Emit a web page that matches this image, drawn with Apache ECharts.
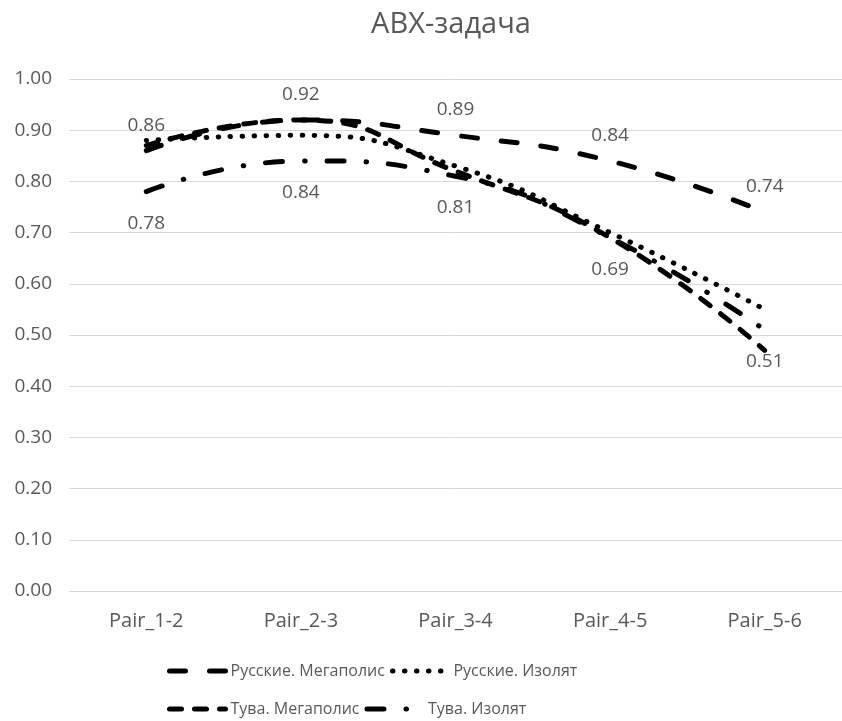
<!DOCTYPE html>
<html>
<head>
<meta charset="utf-8">
<script src="https://cdn.jsdelivr.net/npm/echarts@6/dist/echarts.min.js"></script>
<style>
  html, body { margin: 0; padding: 0; background: #ffffff; }
  #chart { width: 842px; height: 721px; }
</style>
</head>
<body>
<div id="chart"></div>
<script>
// ABX task: proportion of correct answers for each stimulus pair
var categories = ['Pair_1-2', 'Pair_2-3', 'Pair_3-4', 'Pair_4-5', 'Pair_5-6'];
var seriesNames = ['Русские. Мегаполис', 'Русские. Изолят', 'Тува. Мегаполис', 'Тува. Изолят'];
var rusMegapolis = [0.86, 0.92, 0.89, 0.84, 0.74];
var rusIsolate = [0.88, 0.89, 0.83, 0.70, 0.55];
var tuvaMegapolis = [0.87, 0.92, 0.82, 0.69, 0.47];
var tuvaIsolate = [0.78, 0.84, 0.81, 0.69, 0.51];
var yTicks = { min: 0, max: 1, interval: 0.1 };

var FONT = '"Open Sans", "Noto Sans", sans-serif';
var GREY = '#595959';

function lineSeries(name, data, dash, label) {
  var s = {
    name: name,
    type: 'line',
    data: data,
    smooth: 0.5,
    symbol: 'circle',
    symbolSize: 0,
    showSymbol: true,
    lineStyle: { color: '#000000', width: 5, type: dash, cap: 'round', join: 'round' },
    itemStyle: { color: '#000000' },
    label: { show: false },
    z: 3
  };
  if (label) {
    s.label = {
      show: true,
      position: label.position,
      distance: label.distance,
      color: GREY,
      fontFamily: FONT,
      fontSize: 19,
      formatter: function (p) { return p.value.toFixed(2); }
    };
  }
  return s;
}

var legendCommon = {
  padding: 0,
  itemWidth: 56,
  itemHeight: 14,
  itemGap: 5,
  itemStyle: { opacity: 0 },
  lineStyle: { width: 5, type: 'inherit', cap: 'round' },
  textStyle: { color: GREY, fontFamily: FONT, fontSize: 16, width: 154, overflow: 'none' }
};

var chart = echarts.init(document.getElementById('chart'), null, { renderer: 'canvas' });
chart.setOption({
  animation: false,
  backgroundColor: '#ffffff',
  title: {
    text: 'ABX-задача',
    left: 446,
    top: 5,
    textAlign: 'center',
    textStyle: { color: GREY, fontFamily: FONT, fontSize: 29, fontWeight: 'normal' }
  },
  legend: [
    Object.assign({}, legendCommon, { data: [seriesNames[0], seriesNames[1]], left: 167, top: 663 }),
    Object.assign({}, legendCommon, { data: [seriesNames[2], seriesNames[3]], left: 167, top: 701 })
  ],
  grid: { left: 69, right: -8, top: 79, bottom: 130, containLabel: false },
  xAxis: {
    type: 'category',
    data: categories,
    boundaryGap: true,
    axisLine: { lineStyle: { color: '#d9d9d9', width: 1 } },
    axisTick: { show: false },
    axisLabel: { color: GREY, fontFamily: FONT, fontSize: 20, margin: 20 },
    splitLine: { show: false }
  },
  yAxis: {
    type: 'value',
    min: yTicks.min,
    max: yTicks.max,
    interval: yTicks.interval,
    axisLine: { show: false },
    axisTick: { show: false },
    axisLabel: {
      color: GREY, fontFamily: FONT, fontSize: 19, margin: 17,
      formatter: function (v) { return v.toFixed(2); }
    },
    splitLine: { lineStyle: { color: '#d9d9d9', width: 1 } }
  },
  series: [
    lineSeries(seriesNames[0], rusMegapolis, [16, 24], { position: 'top', distance: 16 }),
    lineSeries(seriesNames[1], rusIsolate, [0.5, 11.5]),
    lineSeries(seriesNames[2], tuvaMegapolis, [12, 13]),
    lineSeries(seriesNames[3], tuvaIsolate, [17, 22, 0.5, 22], { position: 'bottom', distance: 22 })
  ]
});
</script>
</body>
</html>
